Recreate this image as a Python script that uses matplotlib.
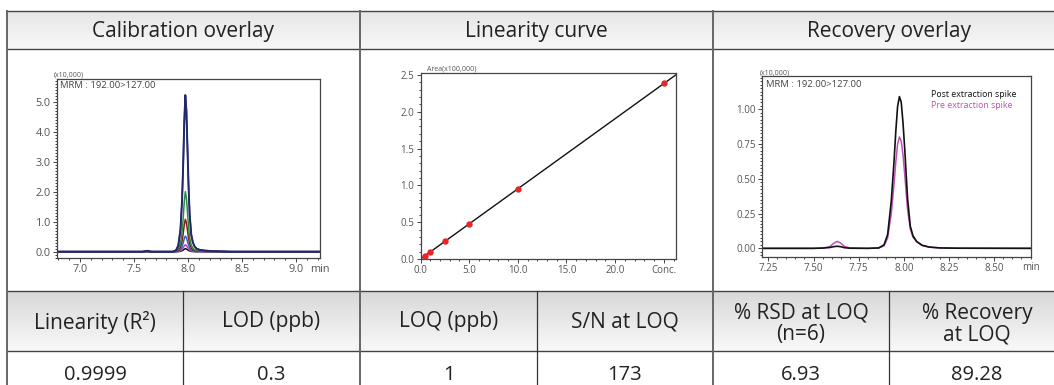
import numpy as np
import matplotlib
matplotlib.use('Agg')
import matplotlib.pyplot as plt
from matplotlib.colors import LinearSegmentedColormap
from matplotlib.ticker import MultipleLocator, FormatStrFormatter

plt.rcParams['font.family'] = ['Open Sans', 'DejaVu Sans']

# ---- table text ----
top_headers = ['Calibration overlay', 'Linearity curve', 'Recovery overlay']
stat_headers = ['Linearity (R²)', 'LOD (ppb)', 'LOQ (ppb)', 'S/N at LOQ',
                '% RSD at LOQ\n(n=6)', '% Recovery\nat LOQ']
stat_values = ['0.9999', '0.3', '1', '173', '6.93', '89.28']

# ---- calibration overlay (x10,000) ----
cal_time = [6.79, 7.50, 7.58, 7.62, 7.66, 7.75, 7.86, 7.89, 7.91, 7.93, 7.945, 7.955,
            7.965, 7.975, 7.985, 7.995, 8.005, 8.015, 8.03, 8.045, 8.06, 8.08, 8.11,
            8.15, 8.22, 8.30, 8.40, 9.22]
cal_0p5 = [0, 0, 0, 0, 0, 0, 0, 0.001, 0.004, 0.014, 0.033, 0.055, 0.082, 0.10,
           0.09, 0.066, 0.042, 0.024, 0.011, 0.006, 0.0035, 0.002, 0.001, 0.001, 0, 0, 0, 0]
cal_1 = [0, 0, 0, 0, 0, 0, 0, 0.002, 0.009, 0.032, 0.076, 0.127, 0.19, 0.23,
         0.207, 0.152, 0.097, 0.055, 0.025, 0.014, 0.008, 0.005, 0.003, 0.002, 0.001, 0, 0, 0]
cal_2p5 = [0, 0, 0, 0, 0, 0, 0, 0.005, 0.02, 0.07, 0.17, 0.29, 0.43, 0.52,
           0.47, 0.34, 0.22, 0.125, 0.057, 0.031, 0.018, 0.010, 0.006, 0.004, 0.002, 0.001, 0, 0]
cal_5 = [0, 0, 0, 0.01, 0, 0, 0, 0.01, 0.04, 0.15, 0.36, 0.59, 0.89, 1.08,
         0.97, 0.71, 0.45, 0.26, 0.12, 0.065, 0.038, 0.022, 0.013, 0.009, 0.004, 0.002, 0, 0]
cal_10 = [0, 0, 0, 0.01, 0, 0, 0, 0.02, 0.08, 0.28, 0.66, 1.10, 1.64, 2.00,
          1.80, 1.32, 0.84, 0.48, 0.22, 0.12, 0.07, 0.04, 0.024, 0.016, 0.008, 0.004, 0, 0]
cal_25 = [0, 0, 0, 0.03, 0, 0, 0, 0.05, 0.21, 0.73, 1.72, 2.87, 4.28, 5.22,
          4.70, 3.45, 2.19, 1.25, 0.57, 0.31, 0.18, 0.10, 0.06, 0.04, 0.02, 0.01, 0, 0]

# ---- linearity (area x100,000 vs conc.) ----
conc = [0.5, 1, 2.5, 5, 10, 25]
area = [0.045, 0.10, 0.24, 0.48, 0.945, 2.385]

# ---- recovery overlay (x10,000) ----
rec_time = [7.215, 7.50, 7.55, 7.59, 7.61, 7.63, 7.65, 7.67, 7.70, 7.80, 7.86, 7.89,
            7.91, 7.93, 7.945, 7.955, 7.965, 7.975, 7.985, 7.995, 8.005, 8.02, 8.035,
            8.05, 8.07, 8.10, 8.14, 8.20, 8.30, 8.70]
post_spike = [0, 0, 0.002, 0.006, 0.012, 0.015, 0.012, 0.005, 0.001, 0, 0.003, 0.025,
              0.10, 0.34, 0.62, 0.84, 1.02, 1.09, 1.05, 0.90, 0.70, 0.36, 0.16, 0.09,
              0.05, 0.022, 0.009, 0.003, 0.001, 0]
pre_spike = [0, 0, 0.002, 0.012, 0.035, 0.05, 0.038, 0.015, 0.003, 0, 0.002, 0.018,
             0.075, 0.25, 0.46, 0.62, 0.75, 0.80, 0.77, 0.67, 0.52, 0.28, 0.14, 0.08,
             0.048, 0.022, 0.009, 0.003, 0.001, 0]

W, H = 1054, 385
fig = plt.figure(figsize=(W / 100, H / 100), dpi=100)
fig.patch.set_facecolor('white')

# background axes in pixel coordinates for the table
bg = fig.add_axes([0, 0, 1, 1])
bg.set_xlim(0, W)
bg.set_ylim(H, 0)
bg.axis('off')

x0, x1 = 7, 1065
top_cols = [7, 360, 713, 1065]
bot_cols = [7, 183, 360, 537, 713, 889, 1065]


def gradient(y_top, y_bot, c_top, c_bot):
    cmap = LinearSegmentedColormap.from_list('g', [c_top, c_bot])
    bg.imshow(np.linspace(0, 1, 64).reshape(-1, 1), extent=(x0, x1, y_bot, y_top),
              cmap=cmap, aspect='auto', interpolation='bilinear', zorder=0)


gradient(11, 49, '#e6e6e6', '#f8f8f8')
gradient(291, 351, '#d8d8d8', '#f9f9f9')
bg.set_xlim(0, W)
bg.set_ylim(H, 0)

line_c = '#444444'
for y in [11, 49, 291, 351]:
    bg.plot([x0, x1], [y, y], color=line_c, lw=1.0, zorder=2)
for x in [7, 360, 713]:
    bg.plot([x, x], [11, H], color='#666666', lw=1.4, zorder=2)
for x in [183, 537, 889]:
    bg.plot([x, x], [291, H], color='#333333', lw=0.9, zorder=2)

for i, t in enumerate(top_headers):
    bg.text((top_cols[i] + top_cols[i + 1]) / 2, 31.5, t, ha='center', va='center',
            fontsize=15, color='#222222')
for i, t in enumerate(stat_headers):
    cx = (bot_cols[i] + bot_cols[i + 1]) / 2
    cy = 324 if '\n' in t else 322
    bg.text(cx, cy, t, ha='center', va='center', fontsize=15, color='#222222',
            linespacing=1.05)
    bg.text(cx, 375, stat_values[i], ha='center', va='center', fontsize=14.5,
            color='#222222')


def px_axes(left, top, right, bottom):
    return fig.add_axes([left / W, 1 - bottom / H, (right - left) / W, (bottom - top) / H])


def style(ax, size=7.5):
    for s in ax.spines.values():
        s.set_color('#444444')
        s.set_linewidth(0.9)
    ax.tick_params(which='both', direction='out', colors='#444444', labelcolor='#555555',
                   labelsize=size, width=0.7)
    ax.tick_params(which='major', length=3, pad=1.5)
    ax.tick_params(which='minor', length=1.6)


# calibration overlay
ax1 = px_axes(57, 79, 320, 258)
cal_series = [(cal_0p5, '#111111'), (cal_1, '#c040b0'), (cal_2p5, '#2864c8'),
              (cal_5, '#8b1a1a'), (cal_10, '#2e8b3e'), (cal_25, '#25286e')]
for ys, c in cal_series:
    ax1.plot(cal_time, ys, color=c, lw=1.1)
ax1.plot(cal_time, cal_25, color='#25286e', lw=1.4)
ax1.set_xlim(6.787, 9.222)
ax1.set_ylim(-0.21, 5.757)
ax1.xaxis.set_major_locator(MultipleLocator(0.5))
ax1.xaxis.set_minor_locator(MultipleLocator(0.1))
ax1.yaxis.set_major_locator(MultipleLocator(1.0))
ax1.yaxis.set_minor_locator(MultipleLocator(0.1))
ax1.xaxis.set_major_formatter(FormatStrFormatter('%.1f'))
ax1.yaxis.set_major_formatter(FormatStrFormatter('%.1f'))
style(ax1, 7.8)
ax1.annotate('min', xy=(1, 0), xycoords='axes fraction', xytext=(0, -4),
             textcoords='offset points', ha='center', va='top', fontsize=7.8, color='#555555')
ax1.text(-0.012, 1.0, '(x10,000)', transform=ax1.transAxes, ha='left', va='bottom',
         fontsize=5, color='#555555')
ax1.text(0.012, 0.965, 'MRM : 192.00>127.00', transform=ax1.transAxes, ha='left', va='center',
         fontsize=6.8, color='#444444')

# linearity curve
ax2 = px_axes(420.5, 72.7, 675.5, 259)
ax2.set_xlim(0, 26.2)
ax2.set_ylim(0, 2.53)
slope, icept = np.polyfit(conc, area, 1)
xs = np.array(ax2.get_xlim()) * 1.05
ax2.plot(xs, slope * xs + icept, color='#111111', lw=1.0, zorder=2)
ax2.plot(conc, area, 'o', color='#e8262a', ms=4.6, mec='none', zorder=3, clip_on=False)
ax2.set_xticks([0, 5, 10, 15, 20, 25])
ax2.set_xticklabels(['0.0', '5.0', '10.0', '15.0', '20.0', 'Conc.'])
ax2.xaxis.set_minor_locator(MultipleLocator(1.0))
ax2.yaxis.set_major_locator(MultipleLocator(0.5))
ax2.yaxis.set_minor_locator(MultipleLocator(0.1))
ax2.yaxis.set_major_formatter(FormatStrFormatter('%.1f'))
style(ax2, 7)
ax2.text(0.027, 1.0, 'Area(x100,000)', transform=ax2.transAxes, ha='left', va='bottom',
         fontsize=5, color='#555555')

# recovery overlay
ax3 = px_axes(762, 76, 1030.5, 256.7)
ax3.plot(rec_time, pre_spike, color='#c04fb4', lw=1.1)
ax3.plot(rec_time, post_spike, color='#111111', lw=1.2)
ax3.set_xlim(7.215, 8.70)
ax3.set_ylim(-0.06, 1.238)
ax3.xaxis.set_major_locator(MultipleLocator(0.25))
ax3.xaxis.set_minor_locator(MultipleLocator(0.05))
ax3.yaxis.set_major_locator(MultipleLocator(0.25))
ax3.yaxis.set_minor_locator(MultipleLocator(0.025))
ax3.xaxis.set_major_formatter(FormatStrFormatter('%.2f'))
ax3.yaxis.set_major_formatter(FormatStrFormatter('%.2f'))
style(ax3, 7)
ax3.annotate('min', xy=(1, 0), xycoords='axes fraction', xytext=(0, -4),
             textcoords='offset points', ha='center', va='top', fontsize=7, color='#555555')
ax3.text(-0.009, 1.0, '(x10,000)', transform=ax3.transAxes, ha='left', va='bottom',
         fontsize=5, color='#555555')
ax3.text(0.014, 0.955, 'MRM : 192.00>127.00', transform=ax3.transAxes, ha='left', va='center',
         fontsize=6.8, color='#444444')
ax3.text(0.628, 0.9, 'Post extraction spike', transform=ax3.transAxes, ha='left', va='center',
         fontsize=6.3, color='#111111')
ax3.text(0.628, 0.835, 'Pre extraction spike', transform=ax3.transAxes, ha='left', va='center',
         fontsize=6.3, color='#c04fb4')

fig.savefig('out.png', dpi=100)
